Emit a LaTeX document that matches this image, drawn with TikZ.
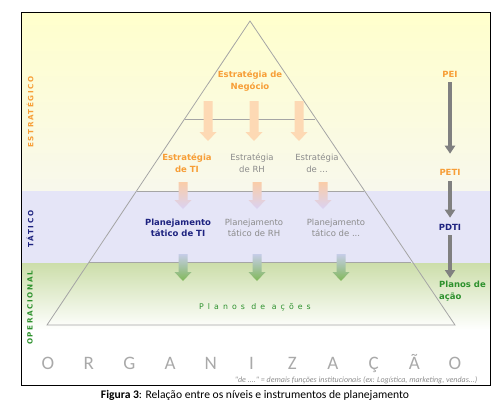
\documentclass[tikz,border=0pt]{standalone}
\usepackage{fontspec}
\setmainfont{DejaVu Sans}
\newfontfamily\capfont{Carlito}
\newfontfamily\trackedfont[LetterSpace=22]{DejaVu Sans}
\newfontfamily\widefont[LetterSpace=52]{DejaVu Sans}
\usetikzlibrary{arrows.meta}

\definecolor{orangetxt}{RGB}{247,158,55}
\definecolor{bluetxt}{RGB}{30,35,128}
\definecolor{greentxt}{RGB}{45,145,45}
\definecolor{greytxt}{RGB}{140,140,140}
\definecolor{pyrline}{RGB}{165,165,165}
\definecolor{bandyellowtop}{RGB}{255,255,204}
\definecolor{bandyellowbot}{RGB}{248,248,236}
\definecolor{bandblue}{RGB}{229,229,247}
\definecolor{bandgreen}{RGB}{204,222,170}
\definecolor{peach}{RGB}{253,217,180}
\definecolor{peachdeep}{RGB}{250,205,168}
\definecolor{lavender}{RGB}{218,210,242}
\definecolor{steel}{RGB}{198,205,232}
\definecolor{leaf}{RGB}{128,184,88}
\definecolor{flowgrey}{RGB}{128,128,128}

% fat downward arrow: x, top y, tip y, top colour, bottom colour
\newcommand\blockarrow[5]{%
  \shade[top color=#4,bottom color=#5]
    (#1-4.5,#2) -- (#1+4.5,#2) -- (#1+4.5,#3-9) -- (#1+8.5,#3-9)
    -- (#1,#3) -- (#1-8.5,#3-9) -- (#1-4.5,#3-9) -- cycle;}

\begin{document}
\begin{tikzpicture}[x=1pt,y=-1pt,
  lbl/.style={align=center,inner sep=1pt,font=\fontsize{8.5}{11.5}\selectfont},
  mainlbl/.style={lbl,font=\bfseries\fontsize{8.5}{11.5}\selectfont},
  sidelbl/.style={rotate=90,font=\trackedfont\bfseries\fontsize{7.2}{8}\selectfont},
  flowlbl/.style={inner sep=2pt,font=\bfseries\fontsize{8.5}{11.5}\selectfont},
  flow/.style={draw=flowgrey,line width=3.5pt,-{Triangle[width=10pt,length=8pt]}},
  pyr/.style={draw=pyrline,line width=0.8pt},
  orgletter/.style={anchor=base,text=greytxt!75,font=\capfont\fontsize{19}{20}\selectfont}]
\useasboundingbox (0,0) rectangle (503,407);

% level bands
\shade[top color=bandyellowtop,bottom color=bandyellowbot] (21,12) rectangle (490,191);
\fill[bandblue] (21,191) rectangle (490,263);
\shade[top color=bandgreen,bottom color=white] (21,263) rectangle (490,330);

% pyramid and its level lines
\draw[pyr] (250,21) -- (47,325) -- (455,325) -- cycle;
\draw[pyr] (185,119) -- (315,119);
\draw[pyr] (137,191) -- (364,191);
\draw[pyr] (89,262) -- (411,262);

% strategy flow arrows
\blockarrow{208}{101}{141}{peach}{peach}
\blockarrow{254}{101}{141}{peach}{peach}
\blockarrow{299}{101}{141}{peach}{peach}
\blockarrow{183}{182}{209}{peachdeep}{lavender}
\blockarrow{257}{182}{209}{peachdeep}{lavender}
\blockarrow{323}{182}{209}{peachdeep}{lavender}
\blockarrow{183}{254}{281}{steel}{leaf}
\blockarrow{257}{254}{281}{steel}{leaf}
\blockarrow{341}{254}{281}{steel}{leaf}

% pyramid labels
\node[mainlbl,text=orangetxt] (neg) at (250,81) {Estratégia de\\Negócio};
\node[mainlbl,text=orangetxt] (eti) at (187,163) {Estratégia\\de TI};
\node[lbl,text=greytxt] (erh) at (252,163) {Estratégia\\de RH};
\node[lbl,text=greytxt] (eot) at (317,163) {Estratégia\\de ...};
\node[mainlbl,text=bluetxt] (pti) at (178,228) {Planejamento\\tático de TI};
\node[lbl,text=greytxt] (prh) at (254,228) {Planejamento\\tático de RH};
\node[lbl,text=greytxt] (pot) at (336,228) {Planejamento\\tático de ...};
\node[text=greentxt,font=\widefont\fontsize{7.8}{9}\selectfont] (acoes) at (255,307) {Planos de ações};

% level names
\node[sidelbl,text=orangetxt] (lvlE) at (30,112) {ESTRATÉGICO};
\node[sidelbl,text=bluetxt] (lvlT) at (30,229) {TÁTICO};
\node[sidelbl,text=greentxt] (lvlO) at (30,308) {OPERACIONAL};

% planning instruments
\node[flowlbl,text=orangetxt] (pei) at (450,74) {PEI};
\node[flowlbl,text=orangetxt] (peti) at (450,172) {PETI};
\node[flowlbl,text=bluetxt] (pdti) at (450,227) {PDTI};
\node[flowlbl,text=greentxt,anchor=north west,align=left,inner sep=0pt,
      font=\bfseries\fontsize{8.5}{12}\selectfont] (pacao) at (439,281) {Planos de\\ação};
\draw[flow,shorten <=3pt,shorten >=13pt] (pei) -- (peti);
\draw[flow,shorten <=4pt,shorten >=4pt] (peti) -- (pdti);
\draw[flow,shorten <=3pt,shorten >=3pt] (pdti) -- (pacao.north -| pdti);

% organisation word
\foreach \ch [count=\i from 0] in {O,R,G,A,N,I,Z,A,Ç,Ã,O}
  \node[orgletter] (org\i) at (48+\i*40.7,369) {\ch};

\node[anchor=base east,text=greytxt,font=\capfont\itshape\fontsize{8}{9}\selectfont] (note) at (481,382)
  {"de ...." = demais funções institucionais (ex: Logística, marketing, vendas...)};

% frame
\draw[line width=1pt] (21,12) rectangle (490,385);

\node[font=\capfont\fontsize{11.6}{13}\selectfont] (caption) at (255,395)
  {\textbf{Figura 3}: Relação entre os níveis e instrumentos de planejamento};
\end{tikzpicture}
\end{document}
